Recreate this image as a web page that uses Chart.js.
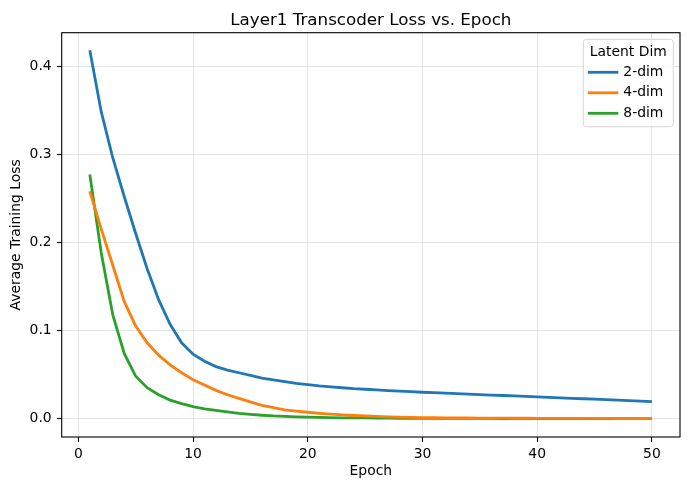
<!DOCTYPE html>
<html>
<head>
<meta charset="utf-8">
<script src="https://cdn.jsdelivr.net/npm/chart.js@4.4.1/dist/chart.umd.min.js"></script>
<style>
  html, body { margin: 0; padding: 0; background: #fff; }
  #wrap { width: 690px; height: 490px; }
</style>
</head>
<body>
<div id="wrap"><canvas id="lossChart"></canvas></div>
<script>
// Data
const epochs = [1, 2, 3, 4, 5, 6, 7, 8, 9, 10, 11, 12, 13, 14, 15, 16, 17, 18, 19, 20,
    21, 22, 23, 24, 25, 26, 27, 28, 29, 30, 31, 32, 33, 34, 35, 36, 37, 38, 39, 40,
    41, 42, 43, 44, 45, 46, 47, 48, 49, 50];

const loss2dim = [0.418, 0.348, 0.296, 0.252, 0.210, 0.170, 0.135, 0.107, 0.086, 0.073,
    0.065, 0.059, 0.055, 0.052, 0.049, 0.046, 0.044, 0.042, 0.040, 0.0385,
    0.037, 0.036, 0.035, 0.034, 0.0333, 0.0325, 0.0318, 0.0311, 0.0305, 0.0299,
    0.0294, 0.0288, 0.0283, 0.0278, 0.0273, 0.0267, 0.0262, 0.0257, 0.0252, 0.0246,
    0.0241, 0.0236, 0.0230, 0.0225, 0.0220, 0.0214, 0.0209, 0.0204, 0.0198, 0.0193];

const loss4dim = [0.258, 0.215, 0.174, 0.133, 0.105, 0.086, 0.072, 0.061, 0.052, 0.044,
    0.038, 0.032, 0.027, 0.023, 0.019, 0.015, 0.0125, 0.010, 0.0085, 0.0072,
    0.006, 0.005, 0.0042, 0.0035, 0.003, 0.0025, 0.002, 0.0017, 0.0014, 0.0012,
    0.001, 0.0009, 0.0008, 0.0007, 0.0006, 0.0005, 0.0005, 0.0004, 0.0004, 0.0003,
    0.0003, 0.0003, 0.0002, 0.0002, 0.0002, 0.0002, 0.0001, 0.0001, 0.0001, 0.0001];

const loss8dim = [0.277, 0.188, 0.118, 0.074, 0.048, 0.035, 0.027, 0.021, 0.017, 0.0135,
    0.011, 0.0092, 0.0075, 0.006, 0.0048, 0.0038, 0.003, 0.0025, 0.002, 0.0016,
    0.0013, 0.0011, 0.0009, 0.0008, 0.0007, 0.0006, 0.0005, 0.0004, 0.0004, 0.0003,
    0.0003, 0.0003, 0.0002, 0.0002, 0.0002, 0.0002, 0.0001, 0.0001, 0.0001, 0.0001,
    0.0001, 0.0001, 0.0001, 0.0001, 0.0001, 0.0001, 0.0001, 0.0001, 0.0001, 0.0001];

const seriesLabels = ['2-dim', '4-dim', '8-dim'];
const xTicks = [0, 10, 20, 30, 40, 50];
const yTicks = [0.0, 0.1, 0.2, 0.3, 0.4];

const FONT = '"DejaVu Sans", sans-serif';
const colors = ['#1f77b4', '#ff7f0e', '#2ca02c'];

function toPoints(values) {
    return epochs.map((e, i) => ({ x: e, y: values[i] }));
}

// draws the title, axis labels, frame and legend box the way matplotlib does
const mplDecor = {
    id: 'mplDecor',
    afterDraw(chart) {
        const ctx = chart.ctx;
        const a = chart.chartArea;
        ctx.save();

        // frame
        ctx.strokeStyle = '#000';
        ctx.lineWidth = 1.1;
        ctx.strokeRect(a.left, a.top, a.right - a.left, a.bottom - a.top);

        // title
        ctx.fillStyle = '#000';
        ctx.font = '16.7px ' + FONT;
        ctx.textAlign = 'center';
        ctx.textBaseline = 'alphabetic';
        ctx.fillText('Layer1 Transcoder Loss vs. Epoch', (a.left + a.right) / 2, 25);

        // axis titles
        ctx.font = '13.9px ' + FONT;
        ctx.textBaseline = 'middle';
        ctx.fillText('Epoch', (a.left + a.right) / 2, 471.5);
        ctx.save();
        ctx.translate(16, (a.top + a.bottom) / 2);
        ctx.rotate(-Math.PI / 2);
        ctx.fillText('Average Training Loss', 0, 0);
        ctx.restore();

        // legend
        const bw = 90, bh = 87.4;
        const bx = a.right - 6.7 - bw, by = a.top + 6.6;
        ctx.beginPath();
        ctx.roundRect(bx, by, bw, bh, 3);
        ctx.fillStyle = 'rgba(255,255,255,0.8)';
        ctx.fill();
        ctx.strokeStyle = '#d6d6d6';
        ctx.lineWidth = 1;
        ctx.stroke();

        ctx.fillStyle = '#000';
        ctx.textAlign = 'center';
        ctx.fillText('Latent Dim', bx + bw / 2, by + 13);
        ctx.textAlign = 'left';
        chart.data.datasets.forEach((ds, i) => {
            const y = by + 33 + i * 20.5;
            ctx.strokeStyle = ds.borderColor;
            ctx.lineWidth = 2.8;
            ctx.beginPath();
            ctx.moveTo(bx + 4.5, y);
            ctx.lineTo(bx + 35, y);
            ctx.stroke();
            ctx.fillStyle = '#000';
            ctx.fillText(ds.label, bx + 40, y);
        });
        ctx.restore();
    }
};

document.addEventListener('DOMContentLoaded', function() {
    const ctx = document.getElementById('lossChart').getContext('2d');
    new Chart(ctx, {
        type: 'line',
        data: {
            datasets: [loss2dim, loss4dim, loss8dim].map((vals, i) => ({
                label: seriesLabels[i],
                data: toPoints(vals),
                borderColor: colors[i],
                backgroundColor: colors[i],
                borderWidth: 2.8,
                pointRadius: 0,
                fill: false,
                tension: 0
            }))
        },
        options: {
            responsive: true,
            maintainAspectRatio: false,
            animation: false,
            layout: {
                padding: { top: 32.7, right: 10, left: 0, bottom: 0 }
            },
            plugins: {
                legend: { display: false },
                title: { display: false },
                tooltip: { enabled: false }
            },
            scales: {
                x: {
                    type: 'linear',
                    min: -1.45,
                    max: 52.45,
                    afterBuildTicks: (scale) => { scale.ticks = xTicks.map(v => ({ value: v })); },
                    afterFit: (scale) => { scale.height = 53; },
                    border: { display: false },
                    grid: {
                        color: '#e4e4e4',
                        lineWidth: 1,
                        tickColor: '#000',
                        tickLength: 5,
                        tickWidth: 1.1
                    },
                    ticks: {
                        color: '#000',
                        padding: 4,
                        font: { family: FONT, size: 13.9 },
                        maxRotation: 0,
                        callback: (v) => String(v)
                    }
                },
                y: {
                    min: -0.0209,
                    max: 0.4379,
                    afterBuildTicks: (scale) => { scale.ticks = yTicks.map(v => ({ value: v })); },
                    afterFit: (scale) => { scale.width = 61.7; },
                    border: { display: false },
                    grid: {
                        color: '#e4e4e4',
                        lineWidth: 1,
                        tickColor: '#000',
                        tickLength: 5,
                        tickWidth: 1.1
                    },
                    ticks: {
                        color: '#000',
                        padding: 5,
                        font: { family: FONT, size: 13.9 },
                        callback: (v) => Number(v).toFixed(1)
                    }
                }
            }
        },
        plugins: [mplDecor]
    });
});
</script>
</body>
</html>
